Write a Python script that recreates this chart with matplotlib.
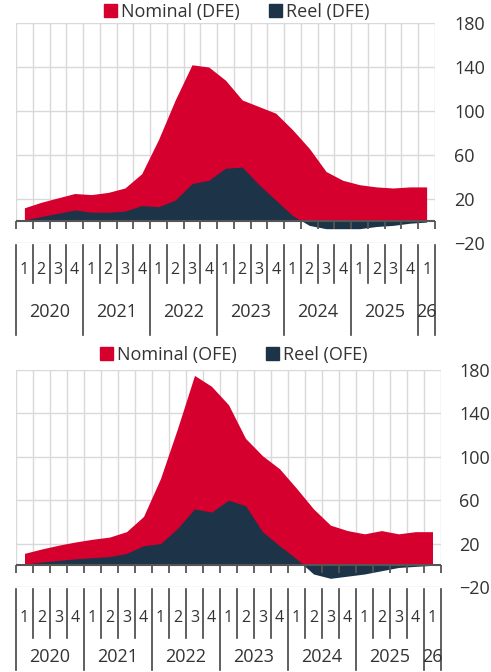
import matplotlib.pyplot as plt
import numpy as np
from matplotlib.patches import Patch
import matplotlib.transforms as mtransforms

plt.rcParams['font.family'] = ['Open Sans', 'DejaVu Sans']

# quarterly values, 2020Q1 .. 2026Q1
quarters = ['1', '2', '3', '4'] * 6 + ['1']
years = ['2020', '2021', '2022', '2023', '2024', '2025', '26']

nominal_dfe = [12, 17, 21, 25, 24, 26, 30, 43, 74, 110, 142, 140, 128, 110, 104, 98,
               83, 66, 45, 37, 33, 31, 30, 31, 31]
reel_dfe = [1, 4, 7, 10, 8, 8, 9, 14, 13, 19, 34, 37, 48, 49, 33, 19,
            5, -4, -7, -7, -7, -5, -4, -2, -1]

nominal_ofe = [11, 15, 18.5, 21.5, 24, 26, 31, 45, 80, 126, 175, 165, 148, 117, 101, 89,
               71, 52, 37, 32, 29, 32, 29, 31, 31]
reel_ofe = [1, 3, 4.5, 6, 7, 8, 11, 18, 20, 34, 52, 49, 60, 55, 31, 18,
            6, -8, -12, -10, -8, -5, -2, -1, 0]

RED = '#d6002e'
NAVY = '#1d3348'
GRID = '#d9d9d9'
TXT = '#333333'

fig = plt.figure(figsize=(4.91, 6.72), dpi=100)
ax_top = fig.add_axes([16 / 491, 429 / 672, 419 / 491, 220 / 672])
ax_bot = fig.add_axes([16 / 491, 85 / 672, 425 / 491, 217 / 672])


def draw_panel(ax, nominal, reel, tag, label_pad, legend_x, legend_gap,
               digit_off, short_end, year_off, long_end):
    n = len(nominal)
    x = np.arange(n)
    h_px = ax.get_position().height * fig.get_figheight() * fig.dpi

    def below(px):
        # axes fraction for a point px pixels under the plot bottom
        return -px / h_px

    ax.fill_between(x, 0, nominal, color=RED, lw=0, zorder=2)
    ax.fill_between(x, 0, reel, color=NAVY, lw=0, zorder=3)

    ax.set_xlim(-0.5, n - 0.5)
    ax.set_ylim(-20, 180)
    ax.set_yticks(range(-20, 181, 40))
    ax.yaxis.tick_right()
    ax.tick_params(axis='y', length=0, pad=label_pad, labelsize=13, labelcolor=TXT)
    ax.set_xticks([])
    for s in ax.spines.values():
        s.set_visible(False)

    ax.grid(axis='y', color=GRID, lw=1, zorder=0)
    bounds = np.arange(-0.5, n, 1.0)
    ax.vlines(bounds, 0, 180, color=GRID, lw=1, zorder=0)

    # category axis at zero with tick marks between categories
    ax.axhline(0, color='#555555', lw=1.5, zorder=4)
    trans = mtransforms.blended_transform_factory(ax.transData, ax.transAxes)
    zero_frac = 20 / 200
    ax.vlines(bounds, zero_frac - 8 / h_px, zero_frac, color='#555555', lw=1.3,
              transform=trans, zorder=4, clip_on=False)

    # multi-level labels under the plot
    for i, q in enumerate(quarters):
        ax.text(i, below(digit_off), q, transform=trans, ha='center', va='center',
                fontsize=11.5, color=TXT)
    year_starts = list(range(0, n, 4))
    for b in bounds:
        is_year = int(b + 0.5) in year_starts or b == bounds[-1]
        end = long_end if is_year else short_end
        ax.plot([b, b], [below(2), below(end)], transform=trans, color='#444444',
                lw=1.2, clip_on=False)
    for k, yr in enumerate(years):
        start = k * 4
        stop = min(start + 4, n)
        ax.text((start + stop - 1) / 2, below(year_off), yr, transform=trans,
                ha='center', va='center', fontsize=13, color=TXT)

    handles = [Patch(color=RED, label=f'Nominal ({tag})'),
               Patch(color=NAVY, label=f'Reel ({tag})')]
    ax.legend(handles=handles, loc='lower center',
              bbox_to_anchor=(legend_x, 1 + legend_gap / h_px), ncol=2,
              frameon=False, fontsize=13, handlelength=0.7, handleheight=0.7,
              handletextpad=0.25, columnspacing=1.6, borderpad=0, borderaxespad=0,
              labelcolor=TXT)


draw_panel(ax_top, nominal_dfe, reel_dfe, 'DFE', 14, 0.527, 2,
           27, 40, 69, 92)
draw_panel(ax_bot, nominal_ofe, reel_ofe, 'OFE', 13, 0.513, 6,
           31, 51, 70, 83)

fig.savefig('out.png', dpi=100)
